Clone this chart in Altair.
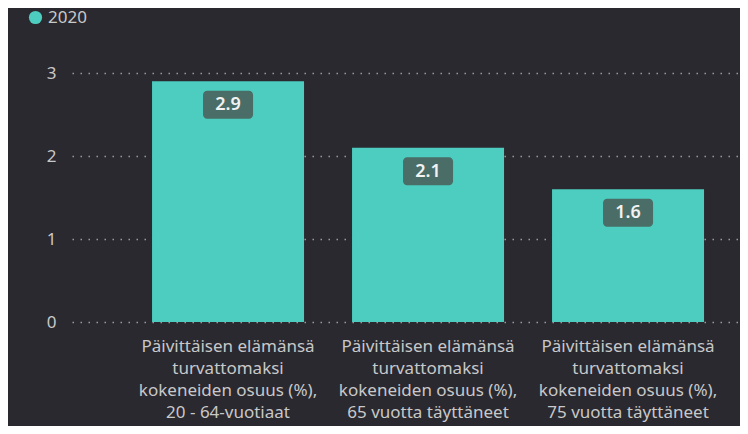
import altair as alt
import pandas as pd

categories = [
    "Päivittäisen elämänsä|turvattomaksi|kokeneiden osuus (%),|20 - 64-vuotiaat",
    "Päivittäisen elämänsä|turvattomaksi|kokeneiden osuus (%),|65 vuotta täyttäneet",
    "Päivittäisen elämänsä|turvattomaksi|kokeneiden osuus (%),|75 vuotta täyttäneet",
]
values = [2.9, 2.1, 1.6]
series = ["2020", "2020", "2020"]
y_ticks = [0, 1, 2, 3]

df = pd.DataFrame({"cat": categories, "value": values, "year": series})

BG = "#2a2930"
BAR = "#4dcdbf"
TXT = "#c8c8c8"
FONT = "Noto Sans"

x = alt.X("cat:N", sort=categories, title=None,
          scale=alt.Scale(paddingInner=0.24, paddingOuter=0.29, align=0.69),
          axis=alt.Axis(labelExpr="split(datum.label, '|')", labelAngle=0,
                        labelFontSize=17, labelColor=TXT, labelFont=FONT,
                        labelLineHeight=22, labelPadding=16, labelBaseline="top",
                        domain=False, ticks=False, grid=False, labelLimit=300))

y = alt.Y("value:Q", title=None,
          scale=alt.Scale(domain=[0, 3], nice=False, zero=True),
          axis=alt.Axis(values=y_ticks, format="d", labelFontSize=17, labelColor=TXT,
                        labelFont=FONT, labelPadding=16, domain=False, ticks=False,
                        grid=True, gridColor="#9a9a9a", gridDash=[1.5, 6.5], gridWidth=1.5))

bars = alt.Chart(df).mark_bar(color=BAR).encode(
    x=x, y=y,
    color=alt.Color("year:N", scale=alt.Scale(range=[BAR]), title=None,
                    legend=alt.Legend(orient="none", legendX=-45, legendY=-64,
                                      symbolType="circle", symbolSize=175,
                                      symbolOpacity=1, labelFontSize=17,
                                      labelColor=TXT, labelFont=FONT,
                                      labelOffset=4, labelLimit=300, padding=0))
)

boxes = alt.Chart(df).mark_bar(width=50, color="#4a6e67", cornerRadius=4,
                               yOffset=9.5, y2Offset=37.5).encode(
    x=alt.X("cat:N", sort=categories),
    y=alt.Y("value:Q"),
    y2=alt.Y2("value:Q"),
)

labels = alt.Chart(df).mark_text(font=FONT, fontSize=18, fontWeight=600,
                                 color="#f2f2f2", dy=24, baseline="middle").encode(
    x=alt.X("cat:N", sort=categories),
    y=alt.Y("value:Q"),
    text=alt.Text("value:Q", format=".1f"),
)

chart = alt.layer(bars, boxes, labels).properties(
    width=668, height=249,
    background=BG,
    padding={"left": 64, "top": 65, "right": 0, "bottom": 104},
    autosize=alt.AutoSizeParams(type="none"),
).configure_view(stroke=None)

chart.save("out.html", embed_options={"renderer": "svg", "actions": False})
